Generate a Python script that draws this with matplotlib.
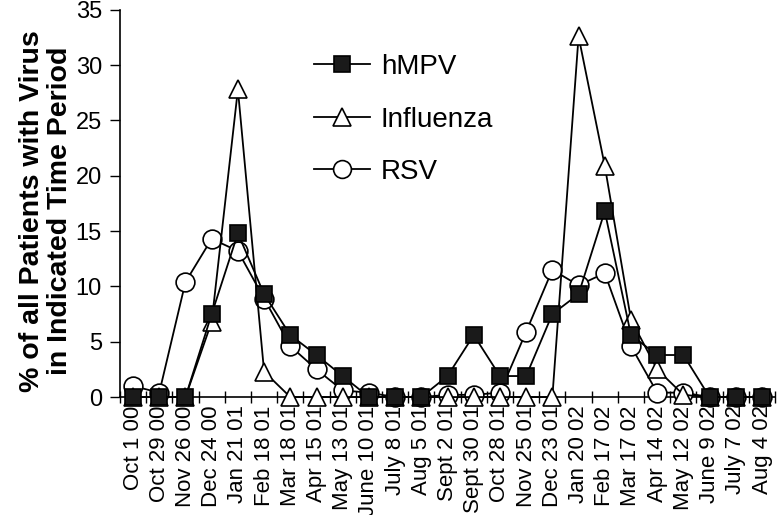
import numpy as np
import matplotlib.pyplot as plt

plt.rcParams['font.family'] = ['Liberation Sans', 'DejaVu Sans']

dates = ["Oct 1 00", "Oct 29 00", "Nov 26 00", "Dec 24 00", "Jan 21 01", "Feb 18 01",
         "Mar 18 01", "Apr 15 01", "May 13 01", "June 10 01", "July 8 01", "Aug 5 01",
         "Sept 2 01", "Sept 30 01", "Oct 28 01", "Nov 25 01", "Dec 23 01", "Jan 20 02",
         "Feb 17 02", "Mar 17 02", "Apr 14 02", "May 12 02", "June 9 02", "July 7 02",
         "Aug 4 02"]
hmpv = [0, 0, 0, 7.5, 14.8, 9.3, 5.6, 3.8, 1.9, 0, 0, 0, 1.9, 5.6, 1.9, 1.9,
        7.5, 9.3, 16.8, 5.6, 3.8, 3.8, 0, 0, 0]
influenza = [0, 0, 0, 6.8, 27.8, 2.3, 0, 0, 0, 0, 0, 0, 0, 0, 0, 0,
             0, 32.6, 20.9, 7.0, 2.5, 0.2, 0, 0, 0]
rsv = [1.0, 0.4, 10.4, 14.3, 13.2, 8.9, 4.6, 2.5, 0.6, 0.4, 0, 0, 0.2, 0.2, 0.4, 5.9,
       11.5, 10.1, 11.2, 4.6, 0.4, 0.4, 0, 0, 0]

x = np.arange(len(dates))

fig = plt.figure(figsize=(7.79, 5.15), dpi=100)
ax = fig.add_axes([0.154, 0.229, 0.841, 0.752])

ax.plot(x, rsv, color='black', lw=1.3, marker='o', ms=13.5, mfc='white', mec='black',
        mew=1.2, label='RSV', clip_on=False, zorder=3)
ax.plot(x, influenza, color='black', lw=1.3, marker='^', ms=13.5, mfc='white', mec='black',
        mew=1.2, label='Influenza', clip_on=False, zorder=4)
ax.plot(x, hmpv, color='black', lw=1.3, marker='s', ms=11.5, mfc='#1a1a1a', mec='black',
        mew=1.2, label='hMPV', clip_on=False, zorder=5)

ax.set_xlim(-0.5, len(dates) - 0.5)
ax.set_ylim(0, 35)
ax.set_yticks(range(0, 36, 5))
ax.set_xticks(x)
ax.set_xticklabels(dates, rotation=90, fontsize=16)
ax.set_xticks(np.arange(-0.5, len(dates), 1), minor=True)
ax.tick_params(axis='x', which='major', length=0, pad=6)
ax.tick_params(axis='x', which='minor', direction='inout', length=8, width=1)
ax.tick_params(axis='y', direction='out', length=7, width=1, labelsize=17, pad=6)

for s in ['top', 'right']:
    ax.spines[s].set_visible(False)
for s in ['left', 'bottom']:
    ax.spines[s].set_linewidth(1.2)

ax.set_ylabel("% of all Patients with Virus\nin Indicated Time Period", fontsize=20.5,
              fontweight='bold', linespacing=1.1)
ax.yaxis.set_label_coords(-0.072, 0.48)

h, l = ax.get_legend_handles_labels()
ax.legend(h[::-1], l[::-1], loc='upper left', bbox_to_anchor=(0.258, 0.95), frameon=False,
          fontsize=20, labelspacing=0.95, handlelength=2.0, handletextpad=0.4,
          markerscale=0.95)

fig.savefig('out.png', dpi=100)
